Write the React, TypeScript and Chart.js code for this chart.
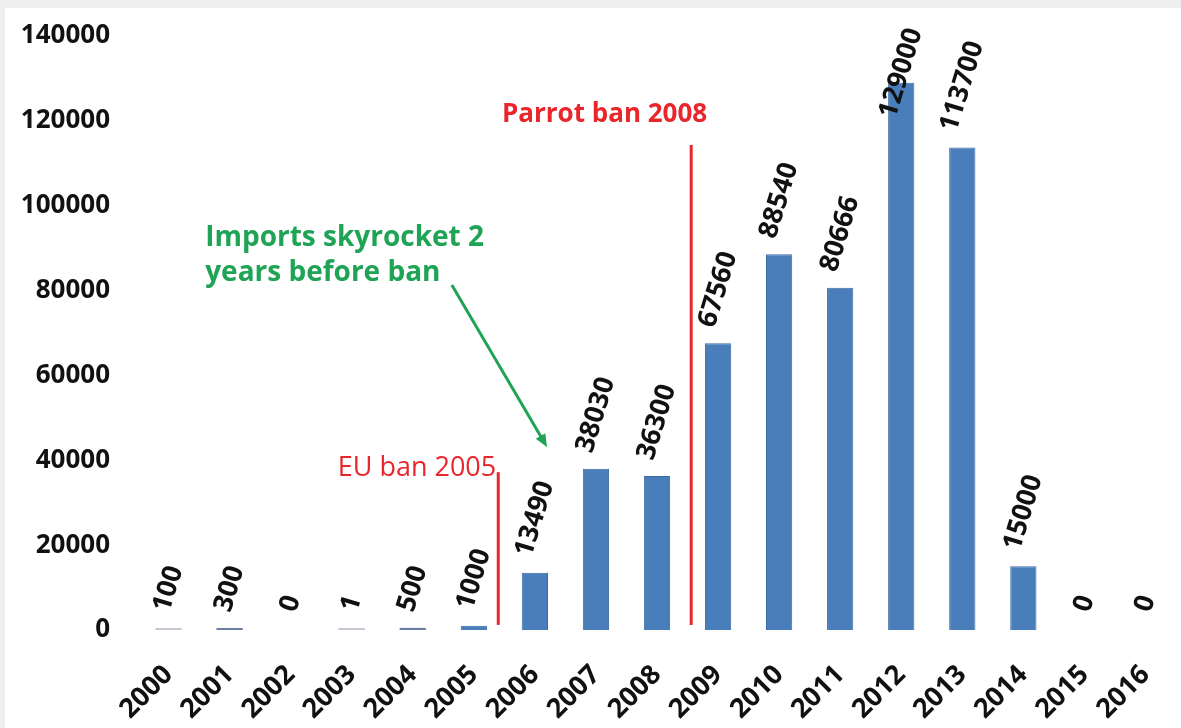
import React, { useEffect, useRef } from "react";
import { Chart, registerables } from "chart.js";

Chart.register(...registerables);

const years = ["2000","2001","2002","2003","2004","2005","2006","2007","2008","2009","2010","2011","2012","2013","2014","2015","2016"];
const imports = [100, 300, 0, 1, 500, 1000, 13490, 38030, 36300, 67560, 88540, 80666, 129000, 113700, 15000, 0, 0];
const yTicks = [0, 20000, 40000, 60000, 80000, 100000, 120000, 140000];

// ban markers: [category position, top value, label]
const banPositions = [5.4, 8.56];
const banTops = [37200, 114300];
const banLabels = ["EU ban 2005", "Parrot ban 2008"];

const noteLines = ["Imports skyrocket 2", "years before ban"];
const notePos = [0.6, 90500];
const arrowFrom = [4.64, 81300];
const arrowTo = [6.2, 43100];

const FONT = "'Open Sans', 'Liberation Sans', sans-serif";
const RED = "#e8262c";
const GREEN = "#1fa456";

const barLabelPlugin = {
  id: "barLabels",
  afterDatasetsDraw(chart: any) {
    const ctx = chart.ctx;
    const meta = chart.getDatasetMeta(0);
    const ang = (73 * Math.PI) / 180;
    ctx.save();
    ctx.font = `bold 27px ${FONT}`;
    ctx.fillStyle = "#111";
    meta.data.forEach((bar: any, i: number) => {
      const txt = String(imports[i]);
      const L = ctx.measureText(txt).width;
      const h = 20;
      const vert = L * Math.sin(ang) + h * Math.cos(ang);
      let cy = bar.y - 14 - vert / 2;
      const minCy = 18 + vert / 2;
      if (cy < minCy) cy = minCy;
      ctx.save();
      ctx.translate(bar.x, cy);
      ctx.rotate(-ang);
      ctx.textAlign = "center";
      ctx.textBaseline = "middle";
      ctx.fillText(txt, 0, 0);
      ctx.restore();
    });
    ctx.restore();
  },
};

const annotationPlugin = {
  id: "annotations",
  afterDraw(chart: any) {
    const ctx = chart.ctx;
    const xs = chart.scales.x;
    const ys = chart.scales.y;
    ctx.save();
    // red ban lines
    banPositions.forEach((p, i) => {
      const x = xs.getPixelForValue(p);
      const yTop = ys.getPixelForValue(banTops[i]);
      const yBot = ys.getPixelForValue(1200);
      ctx.strokeStyle = RED;
      ctx.lineWidth = 3;
      ctx.beginPath();
      ctx.moveTo(x, yTop);
      ctx.lineTo(x, yBot);
      ctx.stroke();
      ctx.fillStyle = RED;
      ctx.textBaseline = "alphabetic";
      ctx.textAlign = "right";
      if (i === 0) {
        ctx.font = `27px ${FONT}`;
        ctx.fillText(banLabels[i], x - 2, yTop + 4);
      } else {
        ctx.font = `bold 26px ${FONT}`;
        ctx.fillText(banLabels[i], x + 16, yTop - 23);
      }
    });
    // green note
    ctx.fillStyle = GREEN;
    ctx.font = `bold 28px ${FONT}`;
    ctx.textAlign = "left";
    ctx.textBaseline = "alphabetic";
    const nx = xs.getPixelForValue(notePos[0]);
    const ny = ys.getPixelForValue(notePos[1]);
    noteLines.forEach((t, i) => ctx.fillText(t, nx, ny + i * 35));
    // arrow
    const ax0 = xs.getPixelForValue(arrowFrom[0]);
    const ay0 = ys.getPixelForValue(arrowFrom[1]);
    const ax1 = xs.getPixelForValue(arrowTo[0]);
    const ay1 = ys.getPixelForValue(arrowTo[1]);
    const a = Math.atan2(ay1 - ay0, ax1 - ax0);
    const head = 14;
    ctx.strokeStyle = GREEN;
    ctx.lineWidth = 3;
    ctx.beginPath();
    ctx.moveTo(ax0, ay0);
    ctx.lineTo(ax1 - Math.cos(a) * head * 0.8, ay1 - Math.sin(a) * head * 0.8);
    ctx.stroke();
    ctx.beginPath();
    ctx.moveTo(ax1, ay1);
    ctx.lineTo(ax1 - head * Math.cos(a - 0.4), ay1 - head * Math.sin(a - 0.4));
    ctx.lineTo(ax1 - head * Math.cos(a + 0.4), ay1 - head * Math.sin(a + 0.4));
    ctx.closePath();
    ctx.fillStyle = GREEN;
    ctx.fill();
    ctx.restore();
  },
};

function barColor(v: number) {
  if (v === 0) return "rgba(0,0,0,0)";
  if (v < 200) return "#c4c8d0";
  if (v < 1000) return "#6d7ea6";
  return "#4a7ebb";
}

export default function App() {
  const ref = useRef<HTMLCanvasElement>(null);
  useEffect(() => {
    if (!ref.current) return;
    const chart = new Chart(ref.current, {
      type: "bar",
      data: {
        labels: years,
        datasets: [
          {
            data: imports,
            backgroundColor: imports.map(barColor),
            borderColor: imports.map((v) => (v >= 1000 ? "#3d6ca3" : "rgba(0,0,0,0)")),
            borderWidth: imports.map((v) => (v >= 1000 ? 1 : 0)),
            borderSkipped: "bottom",
            minBarLength: 2,
            barPercentage: 0.86,
            categoryPercentage: 0.5,
          },
        ],
      },
      options: {
        responsive: false,
        animation: false,
        events: [],
        layout: { padding: { top: 28, right: 5, left: 0, bottom: 0 } },
        plugins: { legend: { display: false }, tooltip: { enabled: false } },
        scales: {
          x: {
            grid: { display: false, drawTicks: false },
            border: { display: false },
            ticks: {
              color: "#111",
              font: { family: FONT, weight: "bold", size: 27 },
              minRotation: 45,
              maxRotation: 45,
              padding: 29,
              autoSkip: false,
            },
            afterFit: (s: any) => {
              s.height = 98;
              s.paddingLeft = 0;
              s.paddingRight = 0;
            },
          },
          y: {
            min: 0,
            max: 140000,
            afterBuildTicks: (s: any) => {
              s.ticks = yTicks.map((v) => ({ value: v }));
            },
            grid: { display: false, drawTicks: false },
            border: { display: false },
            ticks: {
              color: "#111",
              font: { family: FONT, weight: "bold", size: 26 },
              padding: 28,
              callback: (v: any) => String(v),
            },
            afterFit: (s: any) => {
              s.width = 133;
              s.paddingTop = 16;
              s.paddingBottom = 0;
            },
          },
        },
      },
      plugins: [barLabelPlugin, annotationPlugin],
    });
    return () => chart.destroy();
  }, []);
  return (
    <div style={{ position: "fixed", left: 0, top: 0, width: 1181, height: 728, background: "#eeeeee" }}>
      <canvas
        ref={ref}
        width={1176}
        height={720}
        style={{ position: "absolute", left: 5, top: 8, width: 1176, height: 720, background: "#ffffff" }}
      />
    </div>
  );
}
